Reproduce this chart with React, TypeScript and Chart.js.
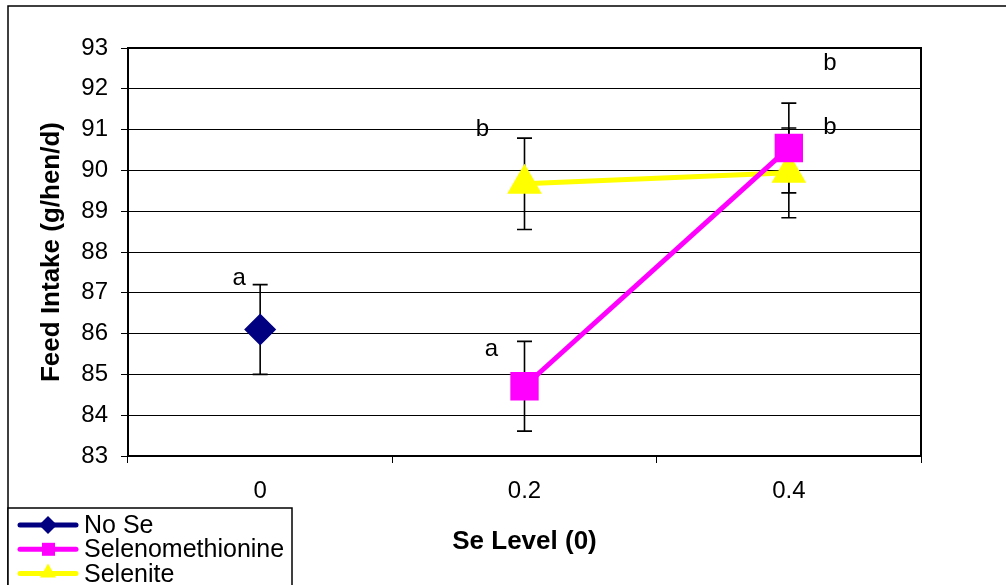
import React, { useEffect, useRef } from "react";
import { Chart, registerables } from "chart.js";

Chart.register(...registerables);

const categories = ["0", "0.2", "0.4"];
const noSe = [86.1, null, null];
const noSeErr = [1.1, null, null];
const selenomethionine = [null, 84.71, 90.55];
const selenomethionineErr = [null, 1.1, 1.1];
const selenite = [null, 89.67, 89.94];
const seleniteErr = [null, 1.12, 1.1];
const yTicks = [83, 84, 85, 86, 87, 88, 89, 90, 91, 92, 93];
const letters = ["a", "b", "a", "b", "b"];
const letterCats = [0, 1, 1, 2, 2];
const letterValues = [87.2, 90.85, 85.45, 92.45, 90.9];
const letterShift = [-21, -42, -33, 41, 41];

const FONT = "Arial, 'Liberation Sans', sans-serif";

const frame = { left: 128, top: 48, right: 921, bottom: 456 };

export default function App() {
  const ref = useRef<HTMLCanvasElement | null>(null);

  useEffect(() => {
    const canvas = ref.current;
    if (!canvas) return;

    const errors = [noSeErr, selenomethionineErr, seleniteErr];

    const decorPlugin = {
      id: "decor",
      beforeDraw(chart: any) {
        const ctx = chart.ctx;
        ctx.save();
        ctx.fillStyle = "#ffffff";
        ctx.fillRect(0, 0, chart.width, chart.height);
        ctx.strokeStyle = "#000";
        ctx.lineWidth = 1.5;
        ctx.beginPath();
        ctx.moveTo(8, 700);
        ctx.lineTo(8, 6);
        ctx.lineTo(1100, 6);
        ctx.stroke();
        ctx.restore();
      },
      beforeDatasetsDraw(chart: any) {
        const ctx = chart.ctx;
        const x = chart.scales.x;
        const y = chart.scales.y;
        ctx.save();
        ctx.strokeStyle = "#000";
        ctx.lineWidth = 1.6;
        chart.data.datasets.forEach((ds: any, di: number) => {
          ds.data.forEach((v: any, i: number) => {
            const e = errors[di][i];
            if (v == null || e == null) return;
            const px = x.getPixelForValue(i);
            const top = y.getPixelForValue(v + e);
            const bot = y.getPixelForValue(v - e);
            ctx.beginPath();
            ctx.moveTo(px, top);
            ctx.lineTo(px, bot);
            ctx.moveTo(px - 7.5, top);
            ctx.lineTo(px + 7.5, top);
            ctx.moveTo(px - 7.5, bot);
            ctx.lineTo(px + 7.5, bot);
            ctx.stroke();
          });
        });
        ctx.restore();
      },
      afterDraw(chart: any) {
        const ctx = chart.ctx;
        const a = chart.chartArea;
        const x = chart.scales.x;
        const y = chart.scales.y;
        ctx.save();
        // plot frame top/right
        ctx.strokeStyle = "#000";
        ctx.lineWidth = 2;
        ctx.beginPath();
        ctx.moveTo(a.left, a.top);
        ctx.lineTo(a.right, a.top);
        ctx.lineTo(a.right, a.bottom);
        ctx.stroke();
        // letters
        ctx.fillStyle = "#000";
        ctx.font = `24px ${FONT}`;
        ctx.textAlign = "center";
        ctx.textBaseline = "alphabetic";
        letters.forEach((t, i) => {
          ctx.fillText(
            t,
            x.getPixelForValue(letterCats[i]) + letterShift[i],
            y.getPixelForValue(letterValues[i])
          );
        });
        // legend
        const lx = 8, ly = 508;
        ctx.fillStyle = "#fff";
        ctx.fillRect(lx, ly, 284, 90);
        ctx.strokeStyle = "#000";
        ctx.lineWidth = 1.5;
        ctx.strokeRect(lx, ly, 284, 90);
        chart.data.datasets.forEach((ds: any, i: number) => {
          const cy = 525 + i * 24.3;
          ctx.strokeStyle = ds.borderColor;
          ctx.lineWidth = 5;
          ctx.lineCap = "round";
          ctx.beginPath();
          ctx.moveTo(20, cy);
          ctx.lineTo(76, cy);
          ctx.stroke();
          ctx.fillStyle = ds.pointBackgroundColor;
          ctx.beginPath();
          if (ds.pointStyle === "rectRot") {
            ctx.moveTo(48, cy - 9);
            ctx.lineTo(57, cy);
            ctx.lineTo(48, cy + 9);
            ctx.lineTo(39, cy);
          } else if (ds.pointStyle === "rect") {
            ctx.rect(42, cy - 6.5, 13, 13);
          } else {
            ctx.moveTo(48, cy - 10);
            ctx.lineTo(56, cy + 4);
            ctx.lineTo(40, cy + 4);
          }
          ctx.closePath();
          ctx.fill();
          ctx.fillStyle = "#000";
          ctx.font = `25px ${FONT}`;
          ctx.textAlign = "left";
          ctx.textBaseline = "alphabetic";
          ctx.fillText(ds.label, 84, cy + 8);
        });
        ctx.restore();
      },
    };

    const chart = new Chart(canvas, {
      type: "line",
      data: {
        labels: categories,
        datasets: [
          {
            label: "No Se",
            data: noSe,
            borderColor: "#000080",
            backgroundColor: "#000080",
            pointBackgroundColor: "#000080",
            pointBorderColor: "#000080",
            pointStyle: "rectRot",
            pointRadius: 12.5,
            borderWidth: 5,
            spanGaps: false,
          },
          {
            label: "Selenomethionine",
            data: selenomethionine,
            borderColor: "#FF00FF",
            backgroundColor: "#FF00FF",
            pointBackgroundColor: "#FF00FF",
            pointBorderColor: "#FF00FF",
            pointStyle: "rect",
            pointRadius: 16.5,
            borderWidth: 5,
          },
          {
            label: "Selenite",
            data: selenite,
            borderColor: "#FFFF00",
            backgroundColor: "#FFFF00",
            pointBackgroundColor: "#FFFF00",
            pointBorderColor: "#FFFF00",
            pointStyle: "triangle",
            pointRadius: 15,
            borderWidth: 5,
          },
        ],
      },
      options: {
        responsive: false,
        animation: false,
        devicePixelRatio: 1,
        layout: {
          padding: { left: 0, top: frame.top, right: 1006 - frame.right, bottom: 0 },
        },
        plugins: {
          legend: { display: false },
          tooltip: { enabled: false },
        },
        scales: {
          x: {
            type: "category",
            offset: true,
            afterFit(scale: any) {
              scale.height = 585 - frame.bottom;
            },
            grid: {
              offset: true,
              drawOnChartArea: false,
              drawTicks: true,
              tickLength: 7,
              color: "#000",
              lineWidth: 1,
            },
            border: { display: true, color: "#000", width: 2 },
            ticks: {
              color: "#000",
              font: { size: 24, family: FONT },
              padding: 14,
              maxRotation: 0,
            },
            title: {
              display: true,
              text: "Se Level (0)",
              color: "#000",
              font: { size: 26, weight: "bold", family: FONT },
              padding: { top: 0, bottom: 28 },
            },
          },
          y: {
            type: "linear",
            min: 83,
            max: 93,
            afterFit(scale: any) {
              scale.width = frame.left;
            },
            afterBuildTicks(scale: any) {
              scale.ticks = yTicks.map((v) => ({ value: v }));
            },
            grid: {
              drawOnChartArea: true,
              drawTicks: true,
              tickLength: 7,
              color: "#000",
              lineWidth: 1,
            },
            border: { display: true, color: "#000", width: 2 },
            ticks: {
              color: "#000",
              font: { size: 24, family: FONT },
              padding: 13,
            },
            title: {
              display: true,
              text: "Feed Intake (g/hen/d)",
              color: "#000",
              font: { size: 26, weight: "bold", family: FONT },
              padding: { top: 36, bottom: 0 },
            },
          },
        },
      },
      plugins: [decorPlugin],
    } as any);

    return () => chart.destroy();
  }, []);

  return (
    <div style={{ position: "absolute", left: 0, top: 0, width: 1006, height: 585, overflow: "hidden" }}>
      <canvas ref={ref} width={1006} height={585} style={{ display: "block" }} />
    </div>
  );
}
